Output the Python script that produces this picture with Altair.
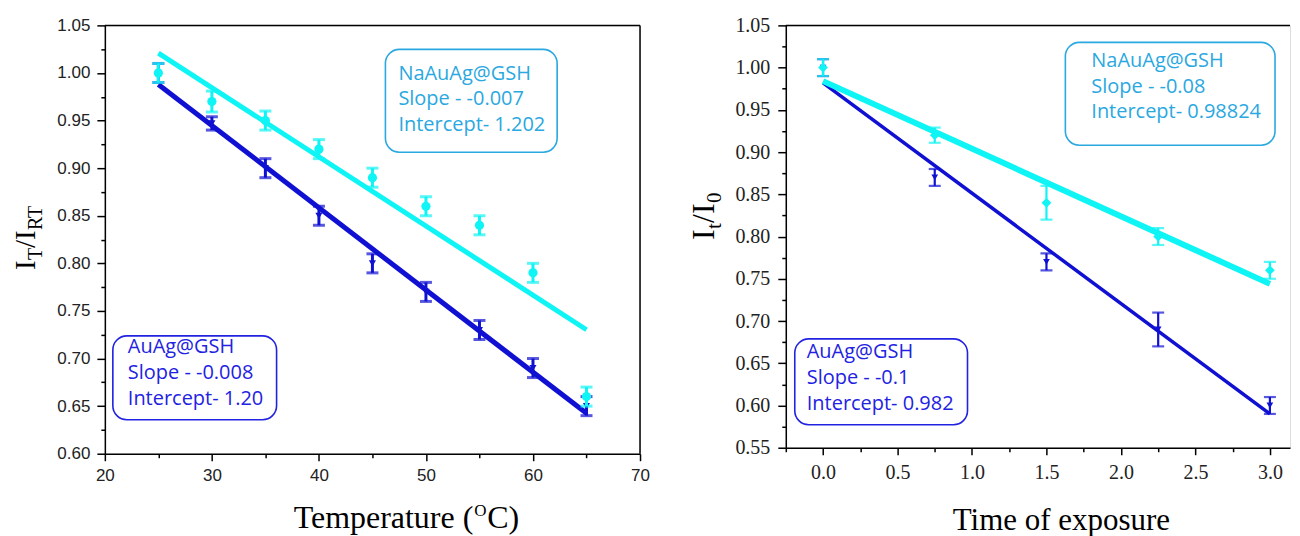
import altair as alt
import pandas as pd

# ---------------- data ----------------
temperature = [25, 30, 35, 40, 45, 50, 55, 60, 65]
auag_temp = [1.00, 0.947, 0.90, 0.85, 0.80, 0.77, 0.73, 0.69, 0.65]
auag_temp_err = [0.01, 0.007, 0.01, 0.01, 0.01, 0.01, 0.01, 0.01, 0.01]
naauag_temp = [1.00, 0.97, 0.95, 0.92, 0.89, 0.86, 0.84, 0.79, 0.66]
naauag_temp_err = [0.01, 0.011, 0.01, 0.01, 0.01, 0.01, 0.01, 0.01, 0.01]

exposure = [0.0, 0.75, 1.5, 2.25, 3.0]
auag_exp = [1.00, 0.87, 0.77, 0.69, 0.60]
auag_exp_err = [0.01, 0.01, 0.01, 0.02, 0.01]
naauag_exp = [1.00, 0.92, 0.84, 0.80, 0.76]
naauag_exp_err = [0.01, 0.009, 0.02, 0.01, 0.01]

# tick values (major + minor)
temp_ticks = [20, 25, 30, 35, 40, 45, 50, 55, 60, 65, 70]
ratio_ticks_left = [0.60, 0.625, 0.65, 0.675, 0.70, 0.725, 0.75, 0.775, 0.80, 0.825, 0.85,
                    0.875, 0.90, 0.925, 0.95, 0.975, 1.00, 1.025, 1.05]
exp_ticks = [-0.25, 0.0, 0.25, 0.5, 0.75, 1.0, 1.25, 1.5, 1.75, 2.0, 2.25, 2.5, 2.75, 3.0]
ratio_ticks_right = [0.55, 0.575] + ratio_ticks_left

# annotation texts
box_naauag_temp = ["NaAuAg@GSH", "Slope - -0.007", "Intercept- 1.202"]
box_auag_temp = ["AuAg@GSH", "Slope - -0.008", "Intercept- 1.20"]
box_naauag_exp = ["NaAuAg@GSH", "Slope - -0.08", "Intercept- 0.98824"]
box_auag_exp = ["AuAg@GSH", "Slope - -0.1", "Intercept- 0.982"]

CYAN = "#0FF4F4"
BLUE = "#1010D2"
BOX_CYAN = "#2AA8E0"
BOX_BLUE = "#2222E2"

one = pd.DataFrame({"k": [0]})


def frame(xs, ys, errs):
    return pd.DataFrame({
        "x": xs, "y": ys,
        "lo": [a - b for a, b in zip(ys, errs)],
        "hi": [a + b for a, b in zip(ys, errs)],
    })


def series(df, X, Y, Ylo, Yhi, color, shape, msize, lw, ew, cap):
    line = alt.Chart(df).transform_regression("x", "y").mark_line(
        color=color, strokeWidth=lw).encode(x=X, y=Y)
    bar = alt.Chart(df).mark_rule(color=color, strokeWidth=ew).encode(x=X, y=Ylo, y2=alt.Y2("hi:Q"))
    cap_lo = alt.Chart(df).mark_tick(color=color, orient="horizontal", size=cap, thickness=ew).encode(x=X, y=Ylo)
    cap_hi = alt.Chart(df).mark_tick(color=color, orient="horizontal", size=cap, thickness=ew).encode(x=X, y=Yhi)
    pts = alt.Chart(df).mark_point(color=color, filled=True, opacity=1, shape=shape, size=msize).encode(x=X, y=Y)
    return [line, bar, cap_lo, cap_hi, pts]


def text(s, x, y, **kw):
    return alt.Chart(one).mark_text(**kw).encode(x=alt.value(x), y=alt.value(y), text=alt.value(s))


def box(x1, x2, y1, y2, color):
    return alt.Chart(one).mark_rect(cornerRadius=14, fillOpacity=0, stroke=color, strokeWidth=1.6).encode(
        x=alt.value(x1), x2=alt.value(x2), y=alt.value(y1), y2=alt.value(y2))


def box_text(lines, x, ys, color):
    return [text(s, x, y, align="left", baseline="middle", font="Open Sans", fontSize=20, color=color)
            for s, y in zip(lines, ys)]


MAJ05 = "abs(datum.value*20 - round(datum.value*20)) < 0.001"

# ---------------- left panel ----------------
LW, LH = 536, 429
lx_axis = alt.Axis(values=temp_ticks, labelExpr="datum.value % 10 === 0 ? datum.value : ''",
                   tickSize={"condition": {"test": "datum.value % 10 === 0", "value": 7}, "value": 4},
                   tickColor="black", tickWidth=1.5, domainColor="black", domainWidth=1.5,
                   labelFont="Liberation Sans", labelFontSize=17, labelColor="#222", labelPadding=7,
                   grid=False, title=None, labelFlush=False, labelOverlap=False)
ly_axis = alt.Axis(values=ratio_ticks_left, labelExpr=MAJ05 + " ? format(datum.value, '.2f') : ''",
                   tickSize={"condition": {"test": MAJ05, "value": 8}, "value": 4},
                   tickColor="black", tickWidth=1.5, domainColor="black", domainWidth=1.5,
                   labelFont="Liberation Sans", labelFontSize=17, labelColor="#222", labelPadding=7,
                   grid=False, title=None, labelFlush=False, labelOverlap=False)
LX = alt.X("x:Q", scale=alt.Scale(domain=[20, 70], nice=False, zero=False), axis=lx_axis)
LSC = alt.Scale(domain=[0.6, 1.05], nice=False, zero=False)
LY = alt.Y("y:Q", scale=LSC, axis=ly_axis)
LYlo = alt.Y("lo:Q", scale=LSC, axis=ly_axis)
LYhi = alt.Y("hi:Q", scale=LSC, axis=ly_axis)

left_layers = []
left_layers += series(frame(temperature, auag_temp, auag_temp_err), LX, LY, LYlo, LYhi,
                      BLUE, "triangle-down", 50, 5, 3, 12)
left_layers += series(frame(temperature, naauag_temp, naauag_temp_err), LX, LY, LYlo, LYhi,
                      CYAN, "circle", 85, 5, 3, 12)
left_layers += [
    alt.Chart(one).mark_rule(color="black", strokeWidth=1.5).encode(
        x=alt.value(0), x2=alt.value(LW), y=alt.value(0)),
    alt.Chart(one).mark_rule(color="black", strokeWidth=1.5).encode(
        x=alt.value(LW), y=alt.value(0), y2=alt.value(LH)),
    box(281, 453, 24, 127, BOX_CYAN),
    box(8, 172, 311, 395, BOX_BLUE),
]
left_layers += box_text(box_naauag_temp, 294, [49, 74, 100], BOX_CYAN)
left_layers += box_text(box_auag_temp, 23, [322, 348, 374], BOX_BLUE)
# y title  I_T / I_RT
ser = dict(font="Liberation Serif", color="black", angle=270, align="left", baseline="alphabetic")
left_layers += [
    text("I", -70, 245, fontSize=29, **ser),
    text("T", -63, 235, fontSize=20, **ser),
    text("/", -70, 223, fontSize=29, **ser),
    text("I", -70, 215, fontSize=29, **ser),
    text("RT", -63, 205, fontSize=20, **ser),
]
# x title  Temperature (°C)
left_layers += [
    text("Temperature (", 369, 503, align="right", baseline="alphabetic", font="Liberation Serif",
         fontSize=32, color="black"),
    text("O", 370, 491, align="left", baseline="alphabetic", font="Liberation Serif",
         fontSize=17, color="black"),
    text("C)", 383, 503, align="left", baseline="alphabetic", font="Liberation Serif",
         fontSize=32, color="black"),
]
left = alt.layer(*left_layers).properties(width=LW, height=LH)

# ---------------- right panel ----------------
RW, RH = 505, 423
MAJ5 = "abs(datum.value*2 - round(datum.value*2)) < 0.001"
rx_axis = alt.Axis(values=exp_ticks, labelExpr=MAJ5 + " ? format(datum.value, '.1f') : ''",
                   tickSize={"condition": {"test": MAJ5, "value": 7}, "value": 4},
                   tickColor="black", tickWidth=1.5, domainColor="black", domainWidth=1.5,
                   labelFont="Liberation Serif", labelFontSize=20, labelColor="#222", labelPadding=8,
                   grid=False, title=None, labelFlush=False, labelOverlap=False)
ry_axis = alt.Axis(values=ratio_ticks_right, labelExpr=MAJ05 + " ? format(datum.value, '.2f') : ''",
                   tickSize={"condition": {"test": MAJ05, "value": 8}, "value": 4},
                   tickColor="black", tickWidth=1.5, domainColor="black", domainWidth=1.5,
                   labelFont="Liberation Serif", labelFontSize=20, labelColor="#222", labelPadding=8,
                   grid=False, title=None, labelFlush=False, labelOverlap=False)
RX = alt.X("x:Q", scale=alt.Scale(domain=[-0.25, 3.135], nice=False, zero=False), axis=rx_axis)
RSC = alt.Scale(domain=[0.55, 1.05], nice=False, zero=False)
RY = alt.Y("y:Q", scale=RSC, axis=ry_axis)
RYlo = alt.Y("lo:Q", scale=RSC, axis=ry_axis)
RYhi = alt.Y("hi:Q", scale=RSC, axis=ry_axis)

right_layers = []
right_layers += series(frame(exposure, auag_exp, auag_exp_err), RX, RY, RYlo, RYhi,
                       BLUE, "triangle-down", 45, 3.5, 2.2, 12)
right_layers += series(frame(exposure, naauag_exp, naauag_exp_err), RX, RY, RYlo, RYhi,
                       CYAN, "diamond", 95, 6, 2.2, 12)
right_layers += [
    alt.Chart(one).mark_rule(color="black", strokeWidth=1.5).encode(
        x=alt.value(0), x2=alt.value(RW), y=alt.value(0)),
    box(280, 490, 17, 120, BOX_CYAN),
    box(9, 182, 314, 400, BOX_BLUE),
]
right_layers += box_text(box_naauag_exp, 306, [36, 62, 87], BOX_CYAN)
right_layers += box_text(box_auag_exp, 21, [327, 353, 379], BOX_BLUE)
right_layers += [
    text("I", -72, 215, fontSize=32, **ser),
    text("t", -65, 204, fontSize=21, **ser),
    text("/", -72, 198, fontSize=32, **ser),
    text("I", -72, 189, fontSize=32, **ser),
    text("0", -65, 178, fontSize=21, **ser),
    text("Time of exposure", 276, 505, align="center", baseline="alphabetic", font="Liberation Serif",
         fontSize=31, color="black"),
]
right = alt.layer(*right_layers).properties(width=RW, height=RH)

chart = alt.hconcat(left, right, spacing=146, bounds="flush").properties(
    padding={"left": 3, "top": 6, "right": 0, "bottom": 0}
).configure_view(stroke=None).configure(background="white")

chart.save("out.html", embed_options={"renderer": "svg", "actions": False})
